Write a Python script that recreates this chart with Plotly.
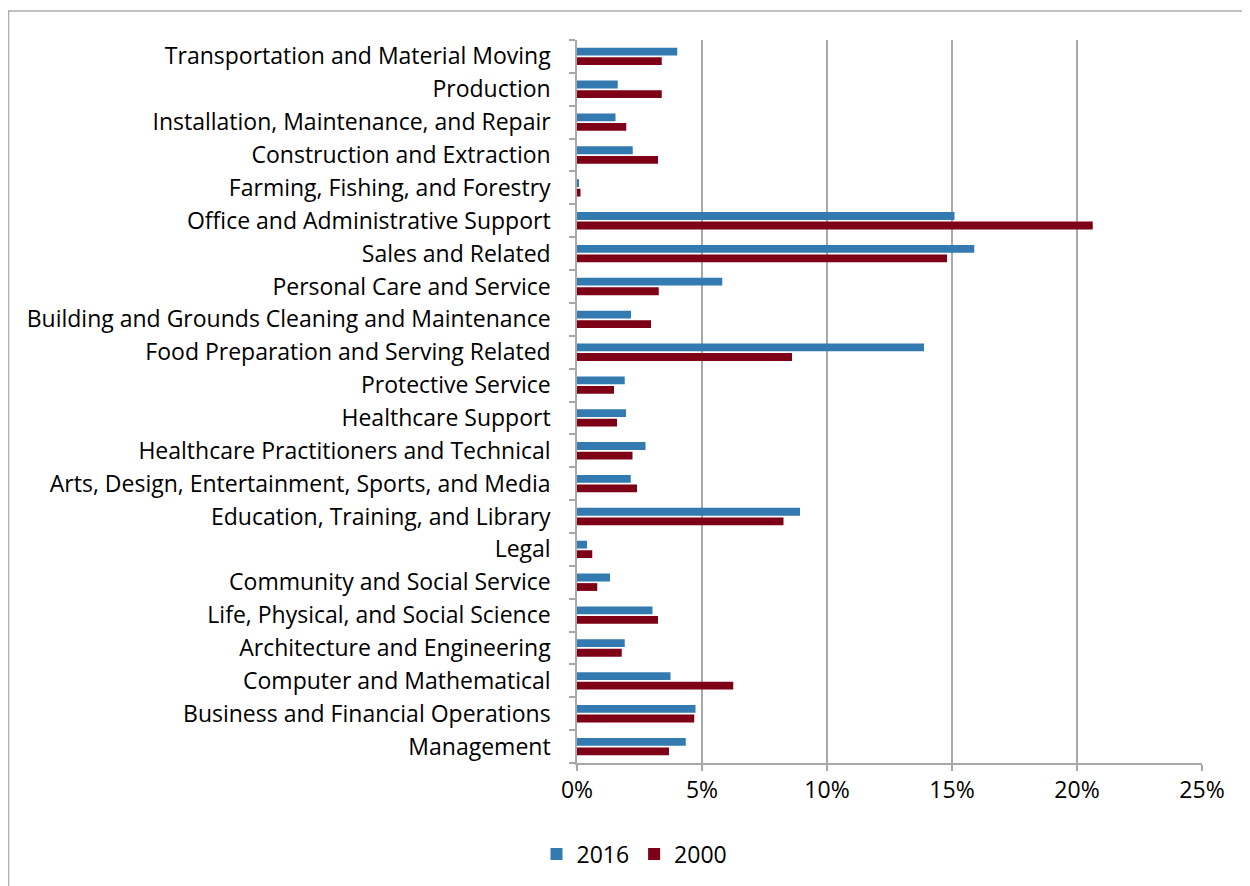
import plotly.graph_objects as go

categories = [
    "Management",
    "Business and Financial Operations",
    "Computer and Mathematical",
    "Architecture and Engineering",
    "Life, Physical, and Social Science",
    "Community and Social Service",
    "Legal",
    "Education, Training, and Library",
    "Arts, Design, Entertainment, Sports, and Media",
    "Healthcare Practitioners and Technical",
    "Healthcare Support",
    "Protective Service",
    "Food Preparation and Serving Related",
    "Building and Grounds Cleaning and Maintenance",
    "Personal Care and Service",
    "Sales and Related",
    "Office and Administrative Support",
    "Farming, Fishing, and Forestry",
    "Construction and Extraction",
    "Installation, Maintenance, and Repair",
    "Production",
    "Transportation and Material Moving",
]

values_2016 = [4.35, 4.74, 3.74, 1.91, 3.02, 1.32, 0.40, 8.92, 2.15, 2.74, 1.96,
               1.91, 13.88, 2.16, 5.81, 15.89, 15.10, 0.06, 2.23, 1.54, 1.63, 4.01]
values_2000 = [3.68, 4.69, 6.25, 1.79, 3.24, 0.81, 0.61, 8.26, 2.40, 2.22, 1.60,
               1.48, 8.60, 2.96, 3.27, 14.80, 20.63, 0.14, 3.24, 1.97, 3.39, 3.39]

x_ticks = [0, 5, 10, 15, 20, 25]
x_tick_labels = ["0%", "5%", "10%", "15%", "20%", "25%"]

BLUE = "#337AB0"
RED = "#7D0016"
GRID = "#A8A8A8"
FONT = "Open Sans"

# page body has an 8px margin, so the figure is drawn 8px in from the window edge
W, H = 1242, 878
PL, PT, PW, PH = 569, 32, 625, 723

fig = go.Figure()
fig.add_trace(go.Bar(
    y=categories, x=values_2000, orientation="h", name="2000",
    marker=dict(color=RED, line=dict(width=0)),
))
fig.add_trace(go.Bar(
    y=categories, x=values_2016, orientation="h", name="2016",
    marker=dict(color=BLUE, line=dict(width=0)),
))

fig.update_layout(
    width=W, height=H,
    margin=dict(l=PL, r=W - PL - PW, t=PT, b=H - PT - PH, autoexpand=False),
    paper_bgcolor="white", plot_bgcolor="white",
    barmode="group", bargap=0.42, bargroupgap=0.18,
    font=dict(family=FONT, size=23, color="#000000"),
    showlegend=True,
    legend=dict(orientation="h", traceorder="reversed",
                x=0.092, xanchor="center", y=-0.126, yanchor="middle",
                font=dict(size=23), itemwidth=30),
    xaxis=dict(
        range=[0, 25], tickvals=x_ticks, ticktext=x_tick_labels,
        showgrid=True, gridcolor=GRID, gridwidth=1.5,
        showline=True, linecolor=GRID, linewidth=1.5,
        ticks="outside", ticklen=6, tickcolor=GRID, tickwidth=1.5,
        zeroline=False, fixedrange=True,
        tickfont=dict(size=23),
    ),
    yaxis=dict(
        type="category", categoryorder="array", categoryarray=categories,
        showline=True, linecolor=GRID, linewidth=1.5,
        ticks="outside", ticklen=6, tickcolor=GRID, tickwidth=1.5,
        tickson="boundaries", showgrid=False,
        ticklabelstandoff=20, tickfont=dict(size=23),
        fixedrange=True,
    ),
    shapes=[dict(
        type="rect", xref="paper", yref="paper",
        x0=(0.5 - PL) / PW, x1=1.2, y0=-0.3, y1=(PH + PT - 3) / PH,
        line=dict(color="#ADADAD", width=1.5), fillcolor="rgba(0,0,0,0)",
        layer="below",
    )],
)

fig.write_html("out.html")
